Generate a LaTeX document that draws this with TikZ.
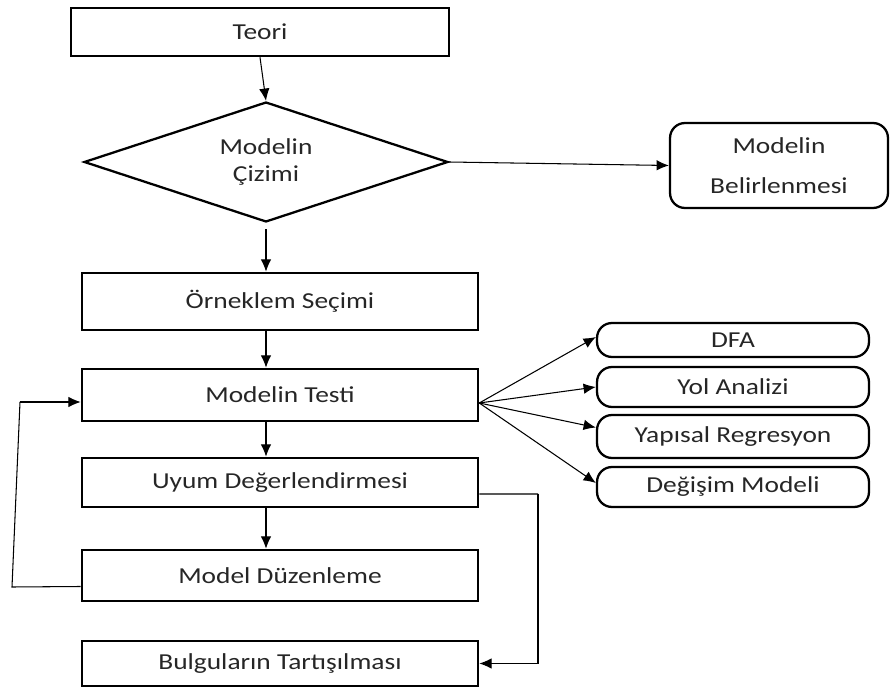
\documentclass[tikz,border=0pt]{standalone}
\usepackage{fontspec}
\setmainfont{Carlito}[FakeStretch=1.2]
\usetikzlibrary{shapes.geometric, arrows.meta}

\tikzset{
    kutu/.style={draw, line width=1.5pt, minimum width=7.92cm, inner sep=0pt, font=\fontsize{13}{16}\selectfont, text=black!85},
    yuvarlak/.style={draw, line width=1.3pt, rounded corners=0.3cm, minimum width=5.44cm, inner sep=0pt, font=\fontsize{13}{16}\selectfont, text=black!85},
    flow/.style={->, >={Latex[length=7pt, width=6pt]}, line width=0.6pt},
    cizgi/.style={line width=0.6pt}
}

\begin{document}
\begin{tikzpicture}[x=0.02cm, y=-0.02cm]
    \useasboundingbox (0,0) rectangle (890,689);
    % ana akis
    \node (teori) at (260,32) [kutu, minimum width=7.56cm, minimum height=0.96cm] {Teori};
    \node (cizim) at (266,162) [draw, diamond, aspect=3, line width=1.3pt, minimum width=7.28cm, minimum height=2.4cm, inner sep=0pt, align=center, font=\fontsize{13}{15}\selectfont, text=black!85] {Modelin\\Çizimi};
    \node (belirle) at (779,165.5) [yuvarlak, minimum width=4.36cm, minimum height=1.7cm, align=center, font=\fontsize{13}{23}\selectfont] {Modelin\\Belirlenmesi};
    \node (orneklem) at (280,301.5) [kutu, minimum height=1.14cm] {Örneklem Seçimi};
    \node (testi) at (280,395) [kutu, minimum height=1.04cm] {Modelin Testi};
    \node (uyum) at (280,482.5) [kutu, minimum height=0.98cm] {Uyum Değerlendirmesi};
    \node (duzen) at (280,575.5) [kutu, minimum height=1.02cm] {Model Düzenleme};
    \node (bulgu) at (280,663.5) [kutu, minimum height=0.9cm] {Bulguların Tartışılması};
    % sag taraf
    \node (dfa) at (733,340) [yuvarlak, minimum height=0.68cm] {DFA};
    \node (yol) at (733,387) [yuvarlak, minimum height=0.8cm] {Yol Analizi};
    \node (yapisal) at (733,436.5) [yuvarlak, minimum height=0.86cm] {Yapısal Regresyon};
    \node (degisim) at (733,487) [yuvarlak, minimum height=0.8cm] {Değişim Modeli};

    \draw [flow] (teori.south) -- (cizim.north);
    \draw [flow] (cizim.east) -- (belirle.west);
    \draw [flow] ([yshift=-0.12cm]cizim.south) -- (cizim.south |- orneklem.north);
    \draw [flow] (cizim.south |- orneklem.south) -- (cizim.south |- testi.north);
    \draw [flow] (cizim.south |- testi.south) -- (cizim.south |- uyum.north);
    \draw [flow] (cizim.south |- uyum.south) -- (cizim.south |- duzen.north);

    \coordinate (cikis) at ([yshift=-0.16cm]testi.east);
    \draw [flow] (cikis) -- ([yshift=0.06cm]dfa.west);
    \draw [flow] (cikis) -- (yol.west);
    \draw [flow] (cikis) -- ([yshift=0.18cm]yapisal.west);
    \draw [flow] (cikis) -- ([yshift=0.08cm]degisim.west);

    % geri donus
    \coordinate (altsol) at (12,587);
    \coordinate (ustsol) at (20,402);
    \draw [cizgi] ([yshift=-0.22cm]duzen.west) -- (altsol) -- (ustsol);
    \draw [flow] (ustsol) -- (ustsol -| testi.west);

    \coordinate (sag) at (538,494);
    \draw [cizgi] ([yshift=-0.23cm]uyum.east) -- (sag);
    \draw [flow] (sag) -- (sag |- bulgu.east) -- (bulgu.east);
\end{tikzpicture}
\end{document}
